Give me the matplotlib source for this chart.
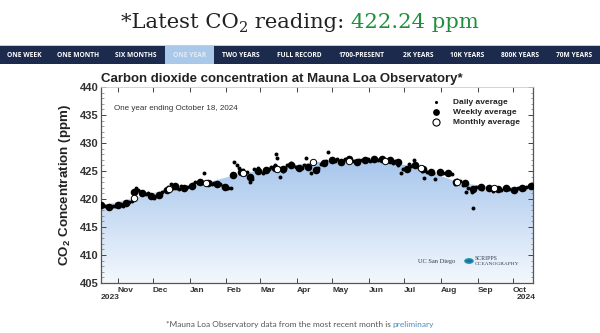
import numpy as np
import matplotlib
matplotlib.use('Agg')
import matplotlib.pyplot as plt
import matplotlib.dates as mdates
from matplotlib.patches import Rectangle, Circle, Polygon
from matplotlib.colors import LinearSegmentedColormap

plt.rcParams['mathtext.fontset'] = 'custom'
plt.rcParams['mathtext.rm'] = 'Liberation Sans'
plt.rcParams['mathtext.bf'] = 'Liberation Sans:bold'

# --- data ---
START = np.datetime64('2023-10-18')
END = np.datetime64('2024-10-18')

weekly_ppm = [418.9, 418.6, 418.9, 419.3, 421.2, 421.0, 420.5, 420.8, 421.6, 422.3,
              421.9, 422.4, 423.0, 422.8, 422.6, 422.1, 424.3, 424.8, 424.0, 425.0,
              425.1, 425.6, 425.3, 426.0, 425.5, 425.8, 425.2, 426.5, 427.0, 426.6,
              427.2, 426.6, 426.9, 427.1, 427.2, 426.9, 426.6, 425.3, 426.0, 425.4,
              424.8, 424.9, 424.6, 423.0, 422.8, 421.7, 422.1, 422.0, 421.8, 421.9,
              421.6, 421.9, 422.3]

daily_day = [1, 3, 5, 8, 10, 12, 15, 17, 19, 22, 24, 26, 29, 30, 31, 33, 36, 38, 40,
             43, 45, 47, 50, 52, 54, 57, 59, 61, 64, 66, 68, 71, 73, 75, 78, 80, 82,
             85, 87, 89, 92, 94, 96, 99, 101, 103, 106, 108, 110, 112, 113, 115, 117,
             120, 122, 124, 126, 128, 130, 133, 135, 137, 140, 142, 144, 147, 148, 149,
             151, 152, 154, 156, 158, 161, 163, 165, 168, 170, 172, 174, 176, 178, 182,
             184, 186, 189, 191, 192, 196, 198, 200, 203, 205, 207, 210, 212, 214, 217,
             219, 221, 224, 226, 228, 231, 233, 235, 238, 240, 242, 245, 247, 249, 252,
             254, 256, 259, 261, 263, 265, 267, 269, 272, 274, 276, 279, 281, 283, 286,
             288, 290, 293, 295, 297, 300, 302, 304, 307, 309, 311, 314, 315, 316, 318,
             321, 323, 328, 330, 332, 335, 337, 339, 342, 344, 346, 349, 351, 353, 356,
             358, 360, 363, 365]
daily_ppm = [419.0, 418.8, 418.7, 418.5, 418.7, 418.8, 418.9, 419.1, 418.8, 419.2,
             419.5, 419.6, 420.4, 422.0, 421.6, 421.3, 421.2, 420.9, 421.1, 420.3,
             420.2, 420.6, 420.9, 421.3, 421.6, 422.2, 422.6, 422.0, 422.0, 421.8,
             422.3, 421.9, 422.1, 422.4, 422.7, 423.0, 422.8, 423.1, 424.6, 422.7,
             423.0, 422.7, 422.9, 422.5, 422.6, 422.3, 422.2, 422.0, 421.9, 424.1,
             426.6, 426.1, 425.5, 425.2, 424.4, 424.8, 423.0, 423.6, 425.3, 425.5,
             425.0, 424.6, 425.0, 425.3, 425.7, 426.1, 428.0, 427.3, 425.5, 423.9,
             425.0, 425.6, 426.0, 426.4, 426.0, 425.8, 425.3, 425.6, 426.1, 427.3,
             425.5, 424.6, 425.0, 425.6, 426.3, 426.6, 426.8, 428.4, 427.1, 426.8,
             427.2, 426.5, 426.8, 427.2, 427.4, 427.0, 426.8, 426.5, 426.9, 427.0,
             427.0, 427.1, 426.8, 427.3, 427.2, 427.0, 427.3, 427.0, 426.8, 426.7,
             426.5, 426.8, 426.0, 424.6, 425.4, 425.6, 426.2, 425.9, 427.0, 426.3,
             425.6, 425.0, 423.8, 424.9, 424.9, 424.6, 423.6, 424.8, 424.6, 424.7,
             424.5, 424.6, 424.4, 422.6, 423.4, 423.2, 422.5, 421.3, 422.0, 421.3,
             418.4, 421.9, 422.2, 422.3, 421.8, 422.2, 421.8, 421.5, 422.0, 421.7,
             421.6, 421.8, 422.1, 421.7, 421.5, 421.8, 421.9, 422.0, 421.8, 422.2,
             422.3, 422.4]

monthly_dates = ['2023-11-15', '2023-12-15', '2024-01-15', '2024-02-15', '2024-03-15',
                 '2024-04-15', '2024-05-15', '2024-06-15', '2024-07-15', '2024-08-15',
                 '2024-09-15']
monthly_ppm = [420.2, 421.8, 422.9, 424.6, 425.4, 426.6, 426.8, 426.8, 425.5, 423.0, 422.0]

month_ticks = ['2023-11-01', '2023-12-01', '2024-01-01', '2024-02-01', '2024-03-01',
               '2024-04-01', '2024-05-01', '2024-06-01', '2024-07-01', '2024-08-01',
               '2024-09-01', '2024-10-01']
month_labels = ['Nov', 'Dec', 'Jan', 'Feb', 'Mar', 'Apr', 'May', 'Jun', 'Jul', 'Aug',
                'Sep', 'Oct']

nav_labels = ['ONE WEEK', 'ONE MONTH', 'SIX MONTHS', 'ONE YEAR', 'TWO YEARS', 'FULL RECORD',
              '1700-PRESENT', '2K YEARS', '10K YEARS', '800K YEARS', '70M YEARS']

W, H = 600, 333


def fx(x):
    return x / W


def fy(y):
    return 1 - y / H


def to_num(days):
    return mdates.date2num(START + np.asarray(days).astype('timedelta64[D]'))


fig = plt.figure(figsize=(6, 3.33), dpi=100)
fig.patch.set_facecolor('white')

# --- headline ---
renderer = fig.canvas.get_renderer()
serif = 'DejaVu Serif'
base_y = fy(28.5)
parts = [('*Latest CO', 15.2, '#222222', 0), ('2', 10.5, '#222222', -4),
         (' reading: ', 15.2, '#222222', 0), ('422.24 ppm', 15.2, '#1f8f3c', 0)]
texts = []
for s, size, col, dy in parts:
    t = fig.text(0, base_y + dy / H, s, fontsize=size, color=col, family=serif,
                 va='baseline', ha='left')
    texts.append(t)
widths = [t.get_window_extent(renderer).width for t in texts]
x = (W - sum(widths)) / 2
for t, w in zip(texts, widths):
    t.set_x(x / W)
    x += w

# --- nav bar ---
fig.add_artist(Rectangle((0, fy(64)), 1, 18 / H, transform=fig.transFigure,
                         facecolor='#1c2b4d', edgecolor='none'))
fig.add_artist(Rectangle((0, fy(46)), 1, 1.2 / H, transform=fig.transFigure,
                         facecolor='#c8ccd2', edgecolor='none'))
fig.add_artist(Rectangle((fx(165), fy(64)), 49 / W, 18 / H, transform=fig.transFigure,
                         facecolor='#a9c8ea', edgecolor='none'))
nav_x = [24, 78, 136, 190, 241, 299, 362, 418, 467, 520, 574]
for lab, nx in zip(nav_labels, nav_x):
    col = '#e3ecf7' if lab == 'ONE YEAR' else 'white'
    fig.text(fx(nx), fy(55.5), lab, fontsize=4.8, fontweight='bold', color=col,
             family='Open Sans', ha='center', va='center')

# --- chart ---
ax = fig.add_axes([fx(101), fy(283), 432 / W, 196 / H])
x0, x1 = mdates.date2num(START), mdates.date2num(END)

# gradient fill under monthly curve
m_days = (np.array(monthly_dates, dtype='datetime64[D]') - START).astype(int)
fill_days = np.concatenate([[0], m_days, [366]])
fill_ppm = np.concatenate([[weekly_ppm[0] - 0.1], monthly_ppm, [weekly_ppm[-1]]])
fill_x = to_num(fill_days)
verts = [(fill_x[0], 405)] + list(zip(fill_x, fill_ppm)) + [(fill_x[-1], 405)]
poly = Polygon(verts, closed=True, facecolor='none', edgecolor='none',
               transform=ax.transData)
ax.add_patch(poly)
cmap = LinearSegmentedColormap.from_list('fill', ['#f4f8fd', '#a5c5ec'])
grad = np.linspace(0, 1, 256).reshape(-1, 1)
im = ax.imshow(grad, cmap=cmap, aspect='auto', origin='lower',
               extent=[x0, x1, 405, 427.5], zorder=1)
im.set_clip_path(poly)

ax.scatter(to_num(daily_day), daily_ppm, s=8, color='black', linewidths=0, zorder=3)
ax.scatter(to_num(np.arange(len(weekly_ppm)) * 7), weekly_ppm, s=30, color='black',
           linewidths=0, zorder=4)
ax.scatter(mdates.date2num(np.array(monthly_dates, dtype='datetime64[D]')), monthly_ppm,
           s=21, facecolor='white', edgecolor='black', linewidths=0.7, zorder=5)

ax.set_xlim(x0, x1)
ax.set_ylim(405, 440)
ax.set_yticks(np.arange(405, 441, 5))
ax.set_yticks(np.arange(405, 441, 1), minor=True)
ax.set_xticks(mdates.date2num(np.array(month_ticks, dtype='datetime64[D]')))
ax.set_xticklabels(month_labels, ha='left')
ax.tick_params(axis='y', which='major', direction='in', length=3.5, width=0.7,
               right=True, labelsize=8, colors='#444444', labelcolor='#333333', pad=2)
ax.tick_params(axis='y', which='minor', direction='in', length=1.8, width=0.5,
               right=True, colors='#777777')
ax.tick_params(axis='x', which='major', direction='in', length=3.5, width=0.7,
               top=True, labelsize=6, colors='#444444', labelcolor='#333333', pad=3)
for lab in ax.get_yticklabels() + ax.get_xticklabels():
    lab.set_fontweight('bold')
    lab.set_family('Liberation Sans')
for side in ['left', 'bottom', 'right']:
    ax.spines[side].set_color('#555555')
    ax.spines[side].set_linewidth(0.9)
ax.spines['top'].set_color('#cccccc')
ax.spines['top'].set_linewidth(0.6)

ax.text(0.0, -0.075, '2023', transform=ax.transAxes, fontsize=6, fontweight='bold',
        family='Liberation Sans', color='#333333', ha='left', va='center')
ax.text(1.007, -0.075, '2024', transform=ax.transAxes, fontsize=6, fontweight='bold',
        family='Liberation Sans', color='#333333', ha='right', va='center')

ax.set_ylabel('CO$_\\mathbf{2}$ Concentration (ppm)', fontsize=9.6, fontweight='bold',
              family='Liberation Sans', color='#222222', labelpad=5)
ax.text(0.0, 1.012, 'Carbon dioxide concentration at Mauna Loa Observatory*',
        transform=ax.transAxes, fontsize=9.5, fontweight='bold', family='Liberation Sans',
        color='#222222', ha='left', va='bottom')
ax.text(0.03, 0.888, 'One year ending October 18, 2024', transform=ax.transAxes,
        fontsize=5.8, family='Liberation Sans', color='#333333', ha='left', va='center')

# legend
leg = [('Daily average', dict(s=5, color='black', linewidths=0)),
       ('Weekly average', dict(s=24, color='black', linewidths=0)),
       ('Monthly average', dict(s=26, facecolor='white', edgecolor='black', linewidths=0.8))]
for i, (lab, kw) in enumerate(leg):
    yy = 0.923 - i * 0.051
    ax.scatter([0.775], [yy], transform=ax.transAxes, clip_on=False, zorder=6, **kw)
    ax.text(0.815, yy, lab, transform=ax.transAxes, fontsize=6, fontweight='bold',
            family='Liberation Sans', color='#222222', ha='left', va='center')

# logo
fig.text(fx(455), fy(261), 'UC San Diego', fontsize=4.6, family='Liberation Serif',
         color='#333b50', ha='right', va='center')
fig.add_artist(Rectangle((fx(459.5), fy(268)), 0.6 / W, 14 / H, transform=fig.transFigure,
                         facecolor='#b0b4bc', edgecolor='none'))
fig.add_artist(Circle((fx(469), fy(261)), 4.3 / W, transform=fig.transFigure,
                      facecolor='#1f6fb0', edgecolor='#2aa7a0', linewidth=0.8))
fig.text(fx(475), fy(258.5), 'SCRIPPS', fontsize=4.2, family='Liberation Serif',
         color='#333b50', ha='left', va='center')
fig.text(fx(475), fy(264), 'OCEANOGRAPHY', fontsize=3.9, family='Liberation Serif',
         color='#333b50', ha='left', va='center')

# footer
f1 = fig.text(0, fy(324), '*Mauna Loa Observatory data from the most recent month is ',
              fontsize=6, family='Lato', color='#555555', ha='left', va='center')
f2 = fig.text(0, fy(324), 'preliminary', fontsize=6, family='Lato', color='#4a8cc4',
              ha='left', va='center')
w1 = f1.get_window_extent(renderer).width
w2 = f2.get_window_extent(renderer).width
fx0 = (W - w1 - w2) / 2
f1.set_x(fx0 / W)
f2.set_x((fx0 + w1) / W)

fig.savefig('out.png', dpi=100)
